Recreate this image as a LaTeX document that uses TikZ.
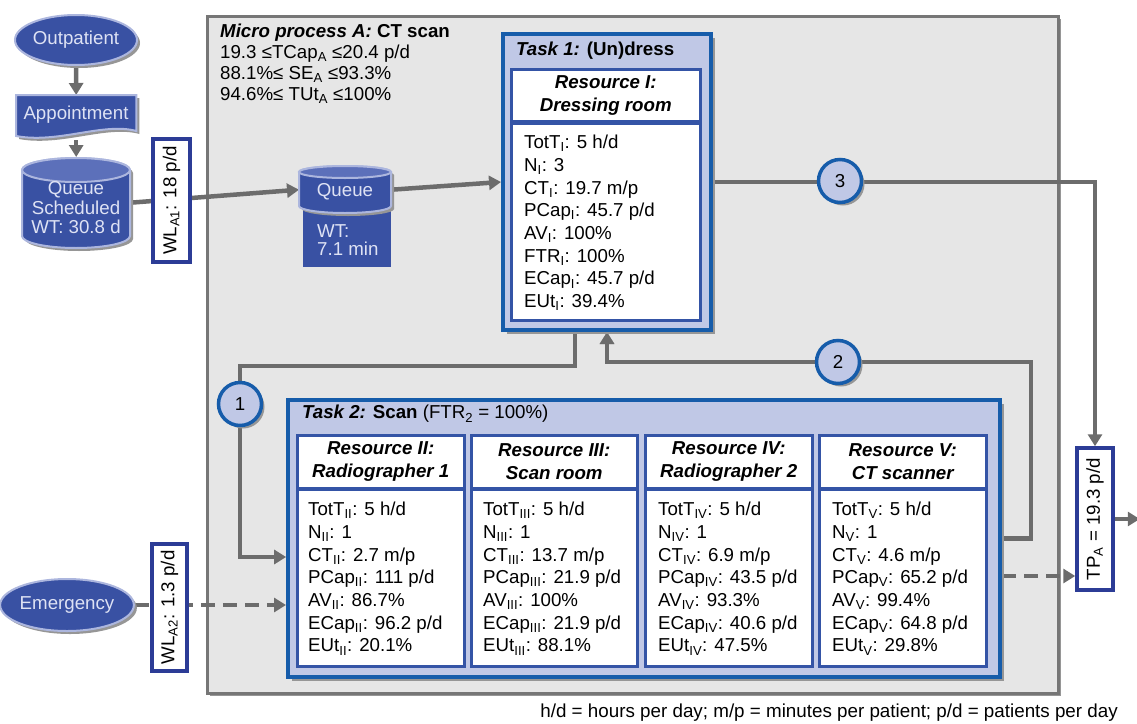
\documentclass[tikz,border=0pt]{standalone}
\usepackage{fontspec}
\setmainfont{Liberation Sans}
\usetikzlibrary{arrows.meta,shadows,calc,shapes.geometric}
\pgfdeclarelayer{bgl}
\pgfdeclarelayer{lines}
\pgfsetlayers{bgl,lines,main}
\definecolor{shapeblue}{RGB}{57,81,163}
\definecolor{shapetop}{RGB}{92,112,186}
\definecolor{shapeedge}{RGB}{172,182,222}
\definecolor{shapetext}{RGB}{222,226,244}
\definecolor{taskedge}{RGB}{22,92,170}
\definecolor{taskfill}{RGB}{192,200,230}
\definecolor{resedge}{RGB}{52,84,166}
\definecolor{bgfill}{RGB}{230,230,230}
\definecolor{bgedge}{RGB}{118,118,118}
\definecolor{connc}{RGB}{108,108,108}
\definecolor{wledge}{RGB}{44,60,150}
\definecolor{shadowc}{RGB}{150,150,150}
\definecolor{lineshadow}{RGB}{170,170,170}
\newcommand\myfs{\fontsize{18.7}{22.7}\selectfont}
\newcommand\ssub[1]{\textsubscript{#1}}
\begin{document}
\begin{tikzpicture}[x=1pt,y=-1pt,
  every node/.style={font=\myfs},
  conn/.style={draw=connc, line width=4.5pt, -{Triangle[length=12pt,width=14pt]}},
  dconn/.style={conn, dash pattern=on 14pt off 8pt},
  lshadow/.style={draw=lineshadow, line width=4.5pt, -{Triangle[length=12pt,width=14pt]}, shift={(1.5pt,-1.5pt)}},
  bgbox/.style={draw=bgedge, line width=3pt, fill=bgfill, anchor=north west, inner sep=0,
    general shadow={fill=shadowc, shadow xshift=2pt, shadow yshift=-2pt}},
  taskbox/.style={draw=taskedge, line width=4pt, fill=taskfill, anchor=north west, inner sep=0,
    general shadow={fill=shadowc, shadow xshift=4pt, shadow yshift=-4pt}},
  resbox/.style={draw=resedge, line width=2.5pt, fill=white, anchor=north west, inner sep=0},
  restitle/.style={align=center, font=\myfs\bfseries\itshape, inner sep=0},
  resbody/.style={align=left, anchor=north west, inner sep=0},
  wlbox/.style={draw=wledge, line width=3.5pt, fill=white, rotate=90, inner sep=0},
  numc/.style={circle, draw=taskedge, line width=3.5pt, fill=taskfill, minimum size=43, inner sep=0,
    general shadow={fill=shadowc, shadow xshift=3pt, shadow yshift=-3pt}},
  oval/.style={ellipse, draw=shapeedge, line width=2pt, fill=shapeblue, text=shapetext, inner sep=0,
    general shadow={fill=shadowc, shadow xshift=3pt, shadow yshift=-3pt}},
  blueshape/.style={draw=shapeedge, line width=2pt, fill=shapeblue},
  shadowshape/.style={fill=shadowc},
  bluetext/.style={text=shapetext, inner sep=0, align=center}
]
\useasboundingbox (0,0) rectangle (1137,723);

% ---------- background box ----------
\begin{pgfonlayer}{bgl}
\node[bgbox, minimum width=851, minimum height=677] (bg) at (206,15) {};
\end{pgfonlayer}
\node[anchor=north west, align=left, inner sep=0, font=\fontsize{18.7}{20.8}\selectfont] (hdr) at (220,24)
  {\textbf{\textit{Micro process A:} CT scan}\\
   19.3 ≤TCap\ssub{A} ≤20.4 p/d\\
   88.1\%≤ SE\ssub{A} ≤93.3\%\\
   94.6\%≤ TUt\ssub{A} ≤100\%};

% ---------- left shapes ----------
\node[oval, minimum width=98, minimum height=50] (out) at (76,40) {Outpatient};

\node[minimum width=120, minimum height=42, anchor=north west, inner sep=0] (app) at (16,95) {};
\fill[shadowshape] ($(app.north west)+(3,3)$) -- ($(app.north east)+(3,3)$) -- ($(app.north east)+(3,39)$)
  .. controls ($(app.north east)+(-30,30)$) and ($(app.north west)+(45,52)$) .. ($(app.north west)+(3,44)$) -- cycle;
\filldraw[blueshape] (app.north west) -- (app.north east) -- ($(app.north east)+(0,36)$)
  .. controls ($(app.north east)+(-33,27)$) and ($(app.north west)+(42,49)$) .. ($(app.north west)+(0,41)$) -- cycle;
\node[bluetext] (apptext) at (76,115) {Appointment};

% big cylinder
\node[minimum width=108, minimum height=91, anchor=north west, inner sep=0] (qs) at (22,157) {};
\fill[shadowshape] (25,173) -- (25,239) arc[start angle=180, end angle=360, x radius=54pt, y radius=12pt]
  -- (133,173) arc[start angle=0, end angle=180, x radius=54pt, y radius=12pt] -- cycle;
\filldraw[blueshape] (22,170) -- (22,236) arc[start angle=180, end angle=360, x radius=54pt, y radius=12pt]
  -- (130,170) arc[start angle=0, end angle=180, x radius=54pt, y radius=12pt] -- cycle;
\filldraw[blueshape, fill=shapetop] (76,170) ellipse[x radius=54pt, y radius=12pt];
\node[bluetext, font=\fontsize{18.7}{19.5}\selectfont] (qstext) at (76,208) {Queue\\Scheduled\\WT: 30.8 d};

% small queue cylinder with WT box
\node[fill=shapeblue, minimum width=88, minimum height=60, anchor=north west, inner sep=0] (wt) at (303,207) {};
\node[bluetext, anchor=north west, align=left, font=\fontsize{18.7}{18.5}\selectfont] (wttext) at (317,224) {WT:\\7.1 min};
\node[minimum width=92, minimum height=47, anchor=north west, inner sep=0] (q) at (299,166) {};
\fill[shadowshape] (302,175) -- (302,209) arc[start angle=180, end angle=360, x radius=46pt, y radius=7pt]
  -- (394,175) arc[start angle=0, end angle=180, x radius=46pt, y radius=6pt] -- cycle;
\filldraw[blueshape] (299,172) -- (299,206) arc[start angle=180, end angle=360, x radius=46pt, y radius=7pt]
  -- (391,172) arc[start angle=0, end angle=180, x radius=46pt, y radius=6pt] -- cycle;
\filldraw[blueshape, fill=shapetop] (345,172) ellipse[x radius=46pt, y radius=6pt];
\node[bluetext] (qtext) at (345,192) {Queue};

\node[oval, minimum width=118, minimum height=52] (em) at (67,605) {Emergency};

% ---------- Task 1 ----------
\node[taskbox, minimum width=208, minimum height=296] (t1) at (501,32) {};
\node[anchor=west, inner sep=0] (t1title) at (516,51) {\textbf{\textit{Task 1:} (Un)dress}};
\node[resbox, minimum width=189, minimum height=52] (r1h) at (510,68) {};
\node[restitle] (r1t) at (r1h.center) {Resource I:\\Dressing room};
\node[resbox, minimum width=189, minimum height=197] (r1b) at (510,122) {};
\node[resbody] (r1x) at (524,135) {TotT\ssub{I}: 5 h/d\\N\ssub{I}: 3\\CT\ssub{I}: 19.7 m/p\\PCap\ssub{I}: 45.7 p/d\\AV\ssub{I}: 100\%\\FTR\ssub{I}: 100\%\\ECap\ssub{I}: 45.7 p/d\\EUt\ssub{I}: 39.4\%};

% ---------- Task 2 ----------
\node[taskbox, minimum width=712, minimum height=277] (t2) at (286,398) {};
\node[anchor=west, inner sep=0] (t2title) at (302,414) {\textbf{\textit{Task 2:} Scan} (FTR\ssub{2} = 100\%)};

\node[resbox, minimum width=167, minimum height=53] (r2h) at (296,434) {};
\node[restitle] (r2t) at (r2h.center) {Resource II:\\Radiographer 1};
\node[resbox, minimum width=167, minimum height=177] (r2b) at (296,488) {};
\node[resbody] (r2x) at (308,502) {TotT\ssub{II}: 5 h/d\\N\ssub{II}: 1\\CT\ssub{II}: 2.7 m/p\\PCap\ssub{II}: 111 p/d\\AV\ssub{II}: 86.7\%\\ECap\ssub{II}: 96.2 p/d\\EUt\ssub{II}: 20.1\%};

\node[resbox, minimum width=166, minimum height=53] (r3h) at (470,434) {};
\node[restitle] (r3t) at (r3h.center) {Resource III:\\Scan room};
\node[resbox, minimum width=166, minimum height=177] (r3b) at (470,488) {};
\node[resbody] (r3x) at (483,502) {TotT\ssub{III}: 5 h/d\\N\ssub{III}: 1\\CT\ssub{III}: 13.7 m/p\\PCap\ssub{III}: 21.9 p/d\\AV\ssub{III}: 100\%\\ECap\ssub{III}: 21.9 p/d\\EUt\ssub{III}: 88.1\%};

\node[resbox, minimum width=167, minimum height=53] (r4h) at (644,434) {};
\node[restitle] (r4t) at (r4h.center) {Resource IV:\\Radiographer 2};
\node[resbox, minimum width=167, minimum height=177] (r4b) at (644,488) {};
\node[resbody] (r4x) at (658,502) {TotT\ssub{IV}: 5 h/d\\N\ssub{IV}: 1\\CT\ssub{IV}: 6.9 m/p\\PCap\ssub{IV}: 43.5 p/d\\AV\ssub{IV}: 93.3\%\\ECap\ssub{IV}: 40.6 p/d\\EUt\ssub{IV}: 47.5\%};

\node[resbox, minimum width=167, minimum height=53] (r5h) at (818,434) {};
\node[restitle] (r5t) at (r5h.center) {Resource V:\\CT scanner};
\node[resbox, minimum width=167, minimum height=177] (r5b) at (818,488) {};
\node[resbody] (r5x) at (832,502) {TotT\ssub{V}: 5 h/d\\N\ssub{V}: 1\\CT\ssub{V}: 4.6 m/p\\PCap\ssub{V}: 65.2 p/d\\AV\ssub{V}: 99.4\%\\ECap\ssub{V}: 64.8 p/d\\EUt\ssub{V}: 29.8\%};

% ---------- WL / TP boxes and circles ----------
\node[wlbox, minimum width=123, minimum height=37] (wl1) at (171.5,200.5) {WL\ssub{A1}: 18 p/d};
\node[wlbox, minimum width=127, minimum height=35] (wl2) at (169.5,607.5) {WL\ssub{A2}: 1.3 p/d};
\node[wlbox, minimum width=142, minimum height=36] (tp) at (1095,519) {TP\ssub{A} = 19.3 p/d};

\node[numc] (c1) at (240,404) {1};
\node[numc] (c2) at (838,362) {2};
\node[numc] (c3) at (840,181) {3};

\coordinate (t2in) at ($(t2.north west)+(0,159)$);
\coordinate (t2out) at ($(t2.north east)+(0,178)$);

% ---------- connectors (tp is rotated: east = top, north = left, south = right) ----------
\begin{pgfonlayer}{lines}
\draw[conn] (out.south) -- (app.north);
\draw[conn] (app.south) ++(0,3) -- (qs.north);
\draw[conn] (qs.east) -- (q.west);
\draw[conn] (q.east) -- (t1.west);
\draw[conn] (t1.east) -| (tp.east);
\draw[lshadow] ($(t1.south)+(-32,0)$) -- ++(0,34) -| (c1.center) |- (t2in);
\draw[conn] ($(t1.south)+(-32,0)$) -- ++(0,34) -| (c1.center) |- (t2in);
\draw[lshadow] (t2.east) -- ++(29,0) |- (c2.center) -| (t1.south);
\draw[conn] (t2.east) -- ++(29,0) |- (c2.center) -| (t1.south);
\draw[dconn] (em.east) -- (em.east -| t2.west);
\draw[dconn] (t2out) -- (t2out -| tp.north);
\draw[conn] (tp.south) -- ++(25,0);
\end{pgfonlayer}

% ---------- footer ----------
\node[anchor=north east, inner sep=0, font=\fontsize{18.8}{20}\selectfont] (foot) at (1118,704)
  {h/d = hours per day; m/p = minutes per patient; p/d = patients per day};
\end{tikzpicture}
\end{document}
